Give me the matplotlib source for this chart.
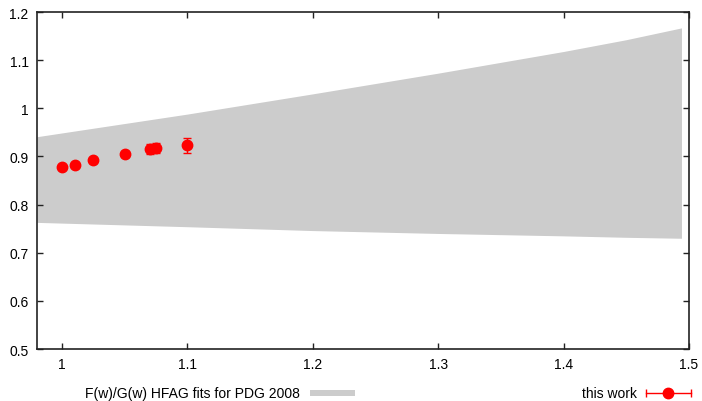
import numpy as np
import matplotlib.pyplot as plt
from matplotlib.lines import Line2D
from matplotlib.patches import Rectangle

plt.rcParams['font.family'] = ['Liberation Sans', 'DejaVu Sans']
plt.rcParams['font.size'] = 10

# HFAG fit band for F(w)/G(w)
band_w = [0.98, 1.1, 1.2, 1.3, 1.4, 1.45, 1.494]
band_hi = [0.941, 0.988, 1.030, 1.073, 1.118, 1.1425, 1.167]
band_lo = [0.763, 0.754, 0.746, 0.740, 0.735, 0.732, 0.730]

# lattice points (this work)
w = [1.0, 1.01, 1.025, 1.05, 1.07, 1.075, 1.1]
ratio = [0.878, 0.883, 0.892, 0.905, 0.915, 0.917, 0.923]
err = [0.004, 0.004, 0.005, 0.006, 0.010, 0.010, 0.015]

xticks = [1, 1.1, 1.2, 1.3, 1.4, 1.5]
xticklabels = ['1', '1.1', '1.2', '1.3', '1.4', '1.5']
yticks = [0.5, 0.6, 0.7, 0.8, 0.9, 1.0, 1.1, 1.2]
yticklabels = ['0.5', '0.6', '0.7', '0.8', '0.9', '1', '1.1', '1.2']

fig = plt.figure(figsize=(7.02, 4.02), dpi=100)
ax = fig.add_axes([37 / 702, 1 - 350 / 402, 652 / 702, 337 / 402])

ax.fill_between(band_w, band_lo, band_hi, color='#cccccc', lw=0)
ax.errorbar(w, ratio, yerr=err, fmt='o', color='red', ms=7.5,
            elinewidth=1, capsize=3, capthick=1, zorder=3)

ax.set_xlim(0.98, 1.5)
ax.set_ylim(0.5, 1.2)
ax.set_xticks(xticks)
ax.set_xticklabels(xticklabels)
ax.set_yticks(yticks)
ax.set_yticklabels(yticklabels)
ax.tick_params(direction='in', length=4, width=1, top=True, right=True,
               labelsize=10, pad=6, color='#222222')
for s in ax.spines.values():
    s.set_linewidth(1.2)
    s.set_color('#222222')

# key below the plot
y_key = 1 - 394 / 402
fig.text(300 / 702, y_key, 'F(w)/G(w) HFAG fits for PDG 2008',
         ha='right', va='center', fontsize=10)
fig.add_artist(Rectangle((310 / 702, y_key - 3 / 402), 45 / 702, 6 / 402,
                         transform=fig.transFigure, color='#cccccc', lw=0))
fig.text(637 / 702, y_key, 'this work', ha='right', va='center', fontsize=10)
fig.add_artist(Line2D([646 / 702, 691 / 702], [y_key, y_key],
                      transform=fig.transFigure, color='red', lw=1,
                      marker='|', markersize=6, markevery=[0, 1]))
fig.add_artist(Line2D([668 / 702], [y_key], transform=fig.transFigure,
                      color='red', marker='o', ms=7.5, ls='none'))

fig.savefig('out.png', dpi=100)
